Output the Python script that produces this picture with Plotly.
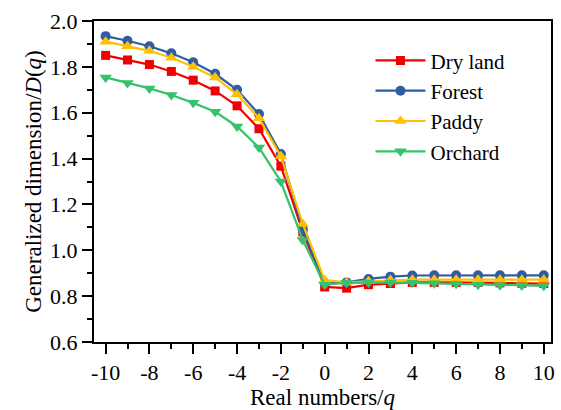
import plotly.graph_objects as go

q = list(range(-10, 11))
dry_land = [1.85, 1.83, 1.81, 1.78, 1.742, 1.695, 1.63, 1.53, 1.367, 1.08, 0.84,
            0.835, 0.85, 0.855, 0.86, 0.86, 0.86, 0.86, 0.858, 0.856, 0.855]
forest = [1.934, 1.914, 1.89, 1.859, 1.82, 1.77, 1.70, 1.594, 1.42, 1.09, 0.855,
          0.86, 0.875, 0.885, 0.89, 0.891, 0.891, 0.891, 0.891, 0.891, 0.891]
paddy = [1.91, 1.89, 1.87, 1.84, 1.80, 1.754, 1.68, 1.576, 1.41, 1.115, 0.87,
         0.86, 0.865, 0.87, 0.872, 0.872, 0.872, 0.872, 0.872, 0.872, 0.872]
orchard = [1.754, 1.73, 1.706, 1.677, 1.643, 1.604, 1.54, 1.448, 1.30, 1.045, 0.85,
           0.858, 0.86, 0.86, 0.858, 0.856, 0.854, 0.85, 0.848, 0.846, 0.845]

series = [
    ("Dry land", dry_land, "#F20000", "square", 9),
    ("Forest", forest, "#2F5DA5", "circle", 10),
    ("Paddy", paddy, "#FFC000", "triangle-up", 11),
    ("Orchard", orchard, "#36C26C", "triangle-down", 11),
]

fig = go.Figure()
for name, vals, col, sym, sz in series:
    fig.add_trace(go.Scatter(
        x=q, y=vals, name=name, mode="lines+markers",
        line=dict(color=col, width=2.2),
        marker=dict(symbol=sym, size=sz, color=col, line=dict(width=0)),
    ))

font_family = "Liberation Serif, Times New Roman, serif"
fig.update_layout(
    width=561, height=410,
    margin=dict(l=94, r=6, t=21, b=68),
    paper_bgcolor="white", plot_bgcolor="white",
    font=dict(family=font_family, size=22, color="black"),
    showlegend=True,
    legend=dict(x=0.605, y=0.94, xanchor="left", yanchor="top",
                bgcolor="rgba(0,0,0,0)", font=dict(size=21, family=font_family),
                itemwidth=50, tracegroupgap=0),
)
fig.update_xaxes(
    range=[-10.53, 10.33], tickmode="array", tickvals=list(range(-10, 11, 2)),
    ticktext=[str(v) for v in range(-10, 11, 2)],
    showgrid=False, zeroline=False, showline=True, linecolor="black", linewidth=2,
    mirror=True, ticks="outside", ticklen=10, tickwidth=2, tickcolor="black",
    minor=dict(tickvals=list(range(-9, 11, 2)), ticks="outside", ticklen=5,
               tickwidth=2, tickcolor="black", showgrid=False),
    tickfont=dict(size=22),
    title=dict(text="Real numbers/<i>q</i>", font=dict(size=23), standoff=0),
)
fig.update_yaxes(
    range=[0.6, 2.0], tickmode="array", tickvals=[0.6, 0.8, 1.0, 1.2, 1.4, 1.6, 1.8, 2.0],
    ticktext=["0.6", "0.8", "1.0", "1.2", "1.4", "1.6", "1.8", "2.0"],
    showgrid=False, zeroline=False, showline=True, linecolor="black", linewidth=2,
    mirror=True, ticks="outside", ticklen=10, tickwidth=2, tickcolor="black",
    minor=dict(tickvals=[0.7, 0.9, 1.1, 1.3, 1.5, 1.7, 1.9], ticks="outside", ticklen=5,
               tickwidth=2, tickcolor="black", showgrid=False),
    tickfont=dict(size=22),
    title=dict(text="Generalized dimension/<i>D</i>(<i>q</i>)", font=dict(size=23), standoff=2),
)
fig.write_html("out.html")
